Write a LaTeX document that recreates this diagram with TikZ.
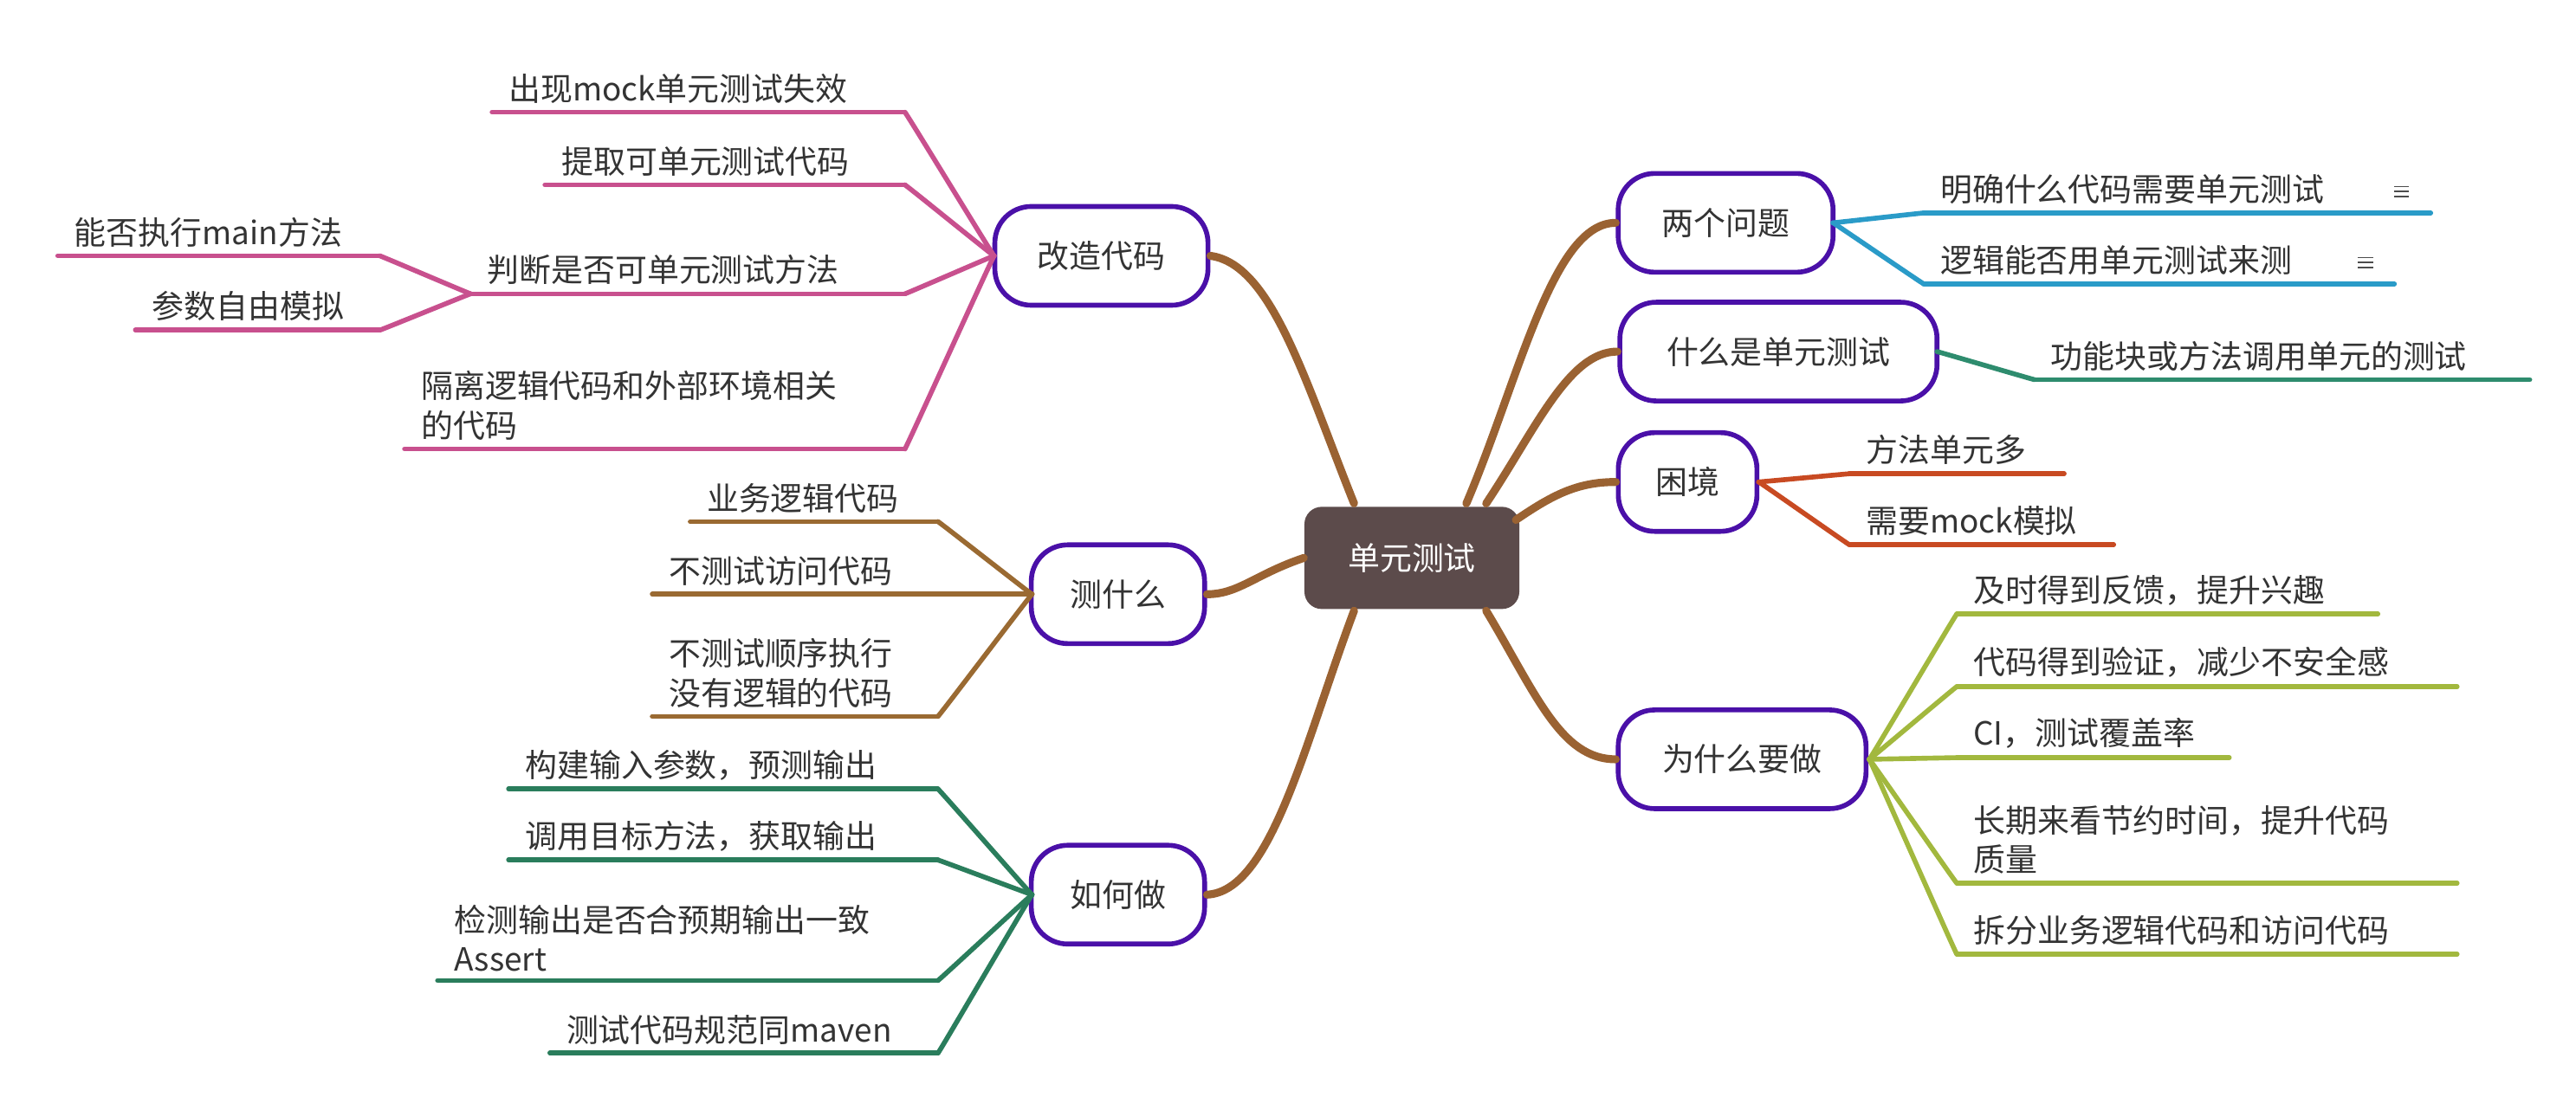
\documentclass[tikz,border=0pt]{standalone}
\usepackage{fontspec}
\setmainfont{Noto Sans CJK SC}
\usetikzlibrary{positioning}
\definecolor{hub}{HTML}{5C4B4B}
\definecolor{topicline}{HTML}{4A10A8}
\definecolor{branch}{HTML}{9A6232}
\definecolor{pinkc}{HTML}{C8508E}
\definecolor{brownc}{HTML}{9A6A32}
\definecolor{greenc}{HTML}{2A7D5C}
\definecolor{bluec}{HTML}{2A9BC8}
\definecolor{tealc}{HTML}{2E8C6E}
\definecolor{redc}{HTML}{C84A22}
\definecolor{olivec}{HTML}{A2B83E}
\tikzset{
  topic/.style={draw=topicline, line width=1.6pt, fill=white, rounded corners=0.42cm,
    minimum height=1.14cm, font=\fontsize{10.5}{12}\selectfont, text=black!80},
  trunk/.style={draw=branch, line width=2.6pt, line cap=round},
  twig/.style={line width=1.6pt, line cap=round},
  leaftext/.style={font=\fontsize{10.5}{13}\selectfont, text=black!80, inner sep=1pt, align=left}
}
% leaf: color, parent point, x start, x end, y, text, side (1 = left, -1 = right)
\newcommand\leaf[7]{%
  \ifnum#7=1
    \draw[twig,#1] (#3,#5) -- (#4,#5);
    \draw[twig,#1] (#2) .. controls +(-0.55,0) and +(0.55,0) .. (#4,#5);
  \else
    \draw[twig,#1] (#3,#5) -- (#4,#5);
    \draw[twig,#1] (#2) .. controls +(0.55,0) and +(-0.55,0) .. (#3,#5);
  \fi
  \node[leaftext, anchor=south west] at ([xshift=0.15cm,yshift=0.06cm]#3,#5) {#6};}
\begin{document}
\begin{tikzpicture}[x=0.01906cm, y=-0.01906cm]
\useasboundingbox (0,0) rectangle (1560,672);

% hub and topics
\node[draw=none, fill=hub, rounded corners=0.2cm, minimum width=2.48cm, minimum height=1.18cm,
  text=white, font=\fontsize{10.5}{12}\selectfont] (hub) at (855,338) {单元测试};
\node[topic, minimum width=2.46cm] (gaizao) at (667,155) {改造代码};
\node[topic, minimum width=2.0cm] (cesm) at (677,360) {测什么};
\node[topic, minimum width=2.0cm] (ruhe) at (677,542) {如何做};
\node[topic, minimum width=2.48cm] (liangge) at (1045,135) {两个问题};
\node[topic, minimum width=3.66cm] (shenme) at (1077,213) {什么是单元测试};
\node[topic, minimum width=1.6cm] (kunjing) at (1022,292) {困境};
\node[topic, minimum width=2.86cm] (weisha) at (1055,460) {为什么要做};

% trunks
\begin{scope}[on background layer/.style={}]
\draw[trunk] (820,305) .. controls (790,230) and (770,160) .. (gaizao.east);
\draw[trunk] (hub.west) .. controls (760,348) and (750,360) .. (cesm.east);
\draw[trunk] (820,370) .. controls (790,450) and (770,540) .. (ruhe.east);
\draw[trunk] (888,305) .. controls (920,230) and (940,135) .. (liangge.west);
\draw[trunk] (900,305) .. controls (930,260) and (950,213) .. (shenme.west);
\draw[trunk] (918,315) .. controls (940,300) and (955,292) .. (kunjing.west);
\draw[trunk] (900,370) .. controls (930,420) and (945,460) .. (weisha.west);
\end{scope}

% 改造代码
\coordinate (gz) at (602,155);
\leaf{pinkc}{gz}{298}{548}{68}{出现mock单元测试失效}{1}
\leaf{pinkc}{gz}{330}{548}{112}{提取可单元测试代码}{1}
\leaf{pinkc}{gz}{285}{548}{178}{判断是否可单元测试方法}{1}
\leaf{pinkc}{gz}{245}{548}{272}{隔离逻辑代码和外部环境相关\\的代码}{1}
\coordinate (pd) at (285,178);
\leaf{pinkc}{pd}{35}{230}{155}{能否执行main方法}{1}
\leaf{pinkc}{pd}{82}{230}{200}{参数自由模拟}{1}

% 测什么
\coordinate (cs) at (625,360);
\leaf{brownc}{cs}{418}{568}{316}{业务逻辑代码}{1}
\leaf{brownc}{cs}{395}{568}{360}{不测试访问代码}{1}
\leaf{brownc}{cs}{395}{568}{434}{不测试顺序执行\\没有逻辑的代码}{1}

% 如何做
\coordinate (rh) at (625,542);
\leaf{greenc}{rh}{308}{568}{478}{构建输入参数，预测输出}{1}
\leaf{greenc}{rh}{308}{568}{521}{调用目标方法，获取输出}{1}
\leaf{greenc}{rh}{265}{568}{594}{检测输出是否合预期输出一致\\Assert}{1}
\leaf{greenc}{rh}{333}{568}{638}{测试代码规范同maven}{1}

% 两个问题
\coordinate (lg) at (1110,135);
\leaf{bluec}{lg}{1165}{1472}{129}{明确什么代码需要单元测试}{-1}
\leaf{bluec}{lg}{1165}{1450}{172}{逻辑能否用单元测试来测}{-1}
\foreach \y in {0,3,6}
{\draw[black!70, line width=0.5pt] (1450,113+\y) -- (1459,113+\y);
 \draw[black!70, line width=0.5pt] (1428,156+\y) -- (1437,156+\y);}

% 什么是单元测试
\coordinate (sm) at (1173,213);
\leaf{tealc}{sm}{1232}{1532}{230}{功能块或方法调用单元的测试}{-1}

% 困境
\coordinate (kj) at (1065,292);
\leaf{redc}{kj}{1120}{1250}{287}{方法单元多}{-1}
\leaf{redc}{kj}{1120}{1280}{330}{需要mock模拟}{-1}

% 为什么要做
\coordinate (ws) at (1132,460);
\leaf{olivec}{ws}{1185}{1440}{372}{及时得到反馈，提升兴趣}{-1}
\leaf{olivec}{ws}{1185}{1488}{416}{代码得到验证，减少不安全感}{-1}
\leaf{olivec}{ws}{1185}{1350}{459}{CI，测试覆盖率}{-1}
\leaf{olivec}{ws}{1185}{1488}{535}{长期来看节约时间，提升代码\\质量}{-1}
\leaf{olivec}{ws}{1185}{1488}{578}{拆分业务逻辑代码和访问代码}{-1}
\end{tikzpicture}
\end{document}
